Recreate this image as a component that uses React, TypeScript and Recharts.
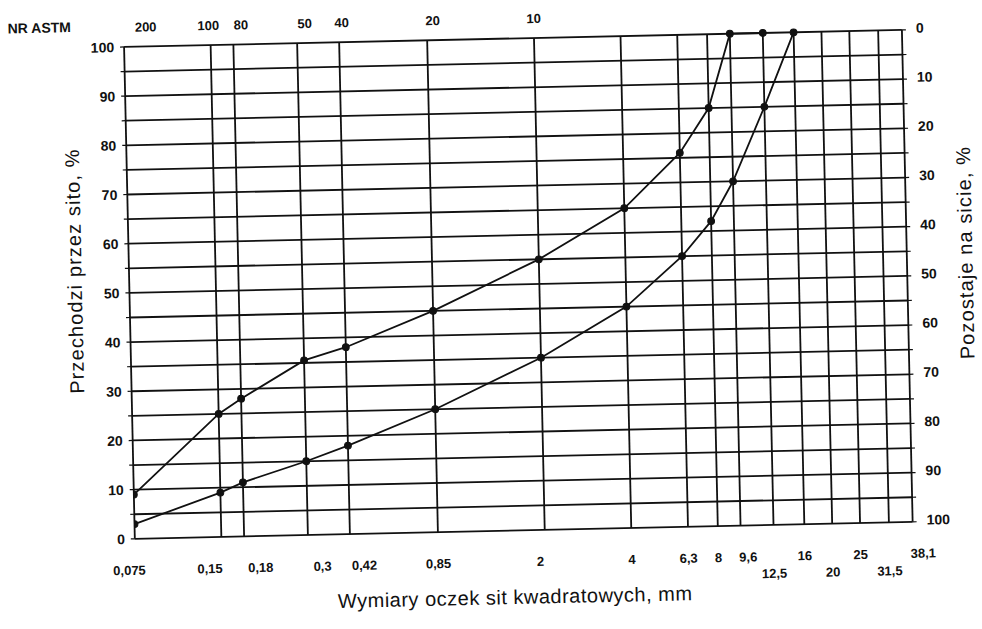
import { LineChart, Line, XAxis, YAxis, CartesianGrid } from "recharts";

// sieve sizes (mm) with the two grading curves, % passing
const sizes = [0.075, 0.15, 0.18, 0.3, 0.42, 0.85, 2, 4, 6.3, 8, 9.6, 12.5, 16];
const passFine = [9, 25, 28, 35.5, 38, 45, 55, 65, 76, 85, 100, 100, null];
const passCoarse = [3, 9, 11, 15, 18, 25, 35, 45, 55, 62, 70, 85, 100];

const sieveTicks = [0.075, 0.15, 0.18, 0.3, 0.42, 0.85, 2, 4, 6.3, 8, 9.6, 12.5, 16, 20, 25, 31.5, 38.1];
const sieveLabels = ["0,075", "0,15", "0,18", "0,3", "0,42", "0,85", "2", "4", "6,3", "8", "9,6", "12,5", "16", "20", "25", "31,5", "38,1"];
const lowerRow = ["12,5", "20", "31,5"];

const astmTicks = [0.075, 0.15, 0.18, 0.3, 0.42, 0.85, 2];
const astmLabels = ["200", "100", "80", "50", "40", "20", "10"];

const percentTicks = [0, 5, 10, 15, 20, 25, 30, 35, 40, 45, 50, 55, 60, 65, 70, 75, 80, 85, 90, 95, 100];

const data = sizes.map((s, i) => ({ size: s, fine: passFine[i], coarse: passCoarse[i] }));

const FONT = "'Liberation Sans', Arial, sans-serif";
const INK = "#111";

// hand placement of a few labels in the original drawing
const labelShift: Record<string, number> = { "0,075": -6, "0,15": -12, "0,18": 16, "0,3": 14, "0,42": 14, "2": -5, "38,1": 10, "9,6": 7 };
const astmShift: Record<string, number> = { "200": 22, "100": -2, "80": 8, "50": 8, "40": 3, "20": 6 };

function BottomTick({ x, y, payload }: any) {
  const i = sieveTicks.indexOf(payload.value);
  const label = sieveLabels[i];
  const low = lowerRow.includes(label);
  return (
    <text x={x + (labelShift[label] || 0)} y={y + (low ? 45 : 28)} textAnchor="middle" fontSize={13} fontWeight="bold" fontFamily={FONT} fill={INK}>
      {label}
    </text>
  );
}

function TopTick({ x, y, payload }: any) {
  const i = astmTicks.indexOf(payload.value);
  if (i < 0) return null;
  const label = astmLabels[i];
  return (
    <text x={x + (astmShift[label] || 0)} y={y - 7} textAnchor="middle" fontSize={13} fontWeight="bold" fontFamily={FONT} fill={INK}>
      {label}
    </text>
  );
}

function LeftTick({ x, y, payload }: any) {
  if (payload.value % 10 !== 0) return null;
  return (
    <text x={x - 4} y={y + 5} textAnchor="end" fontSize={14} fontWeight="bold" fontFamily={FONT} fill={INK}>
      {payload.value}
    </text>
  );
}

function RightTick({ x, y, payload }: any) {
  if (payload.value % 10 !== 0) return null;
  return (
    <text x={x + 8} y={y + 3} textAnchor="start" fontSize={14} fontWeight="bold" fontFamily={FONT} fill={INK}>
      {payload.value}
    </text>
  );
}

export default function App() {
  return (
    <div
      style={{
        position: "absolute",
        left: 0,
        top: 0,
        width: 982,
        height: 629,
        background: "#fff",
        fontFamily: FONT,
        transform: "rotate(-1.25deg)",
        transformOrigin: "491px 314px",
      }}
    >
      <LineChart width={982} height={629} data={data} margin={{ top: 19, right: 14, bottom: 48, left: 70 }}>
        <CartesianGrid xAxisId="bottom" yAxisId="left" stroke={INK} strokeWidth={1.8} />
        <XAxis
          xAxisId="bottom"
          dataKey="size"
          type="number"
          scale="log"
          domain={[0.075, 38.1]}
          allowDataOverflow
          ticks={sieveTicks}
          interval={0}
          axisLine={false}
          tickLine={false}
          height={50}
          tick={<BottomTick />}
        />
        <XAxis
          xAxisId="top"
          orientation="top"
          dataKey="size"
          type="number"
          scale="log"
          domain={[0.075, 38.1]}
          allowDataOverflow
          ticks={astmTicks}
          interval={0}
          axisLine={false}
          tickLine={false}
          height={20}
          tick={<TopTick />}
        />
        <YAxis
          yAxisId="left"
          domain={[0, 100]}
          ticks={percentTicks}
          interval={0}
          width={60}
          axisLine={false}
          tickLine={{ stroke: INK, strokeWidth: 1.2 }}
          tickSize={4}
          tick={<LeftTick />}
        />
        <YAxis
          yAxisId="right"
          orientation="right"
          reversed
          domain={[0, 100]}
          ticks={percentTicks}
          interval={0}
          width={60}
          axisLine={false}
          tickLine={{ stroke: INK, strokeWidth: 1.2 }}
          tickSize={4}
          tick={<RightTick />}
        />
        <Line
          xAxisId="bottom"
          yAxisId="left"
          type="linear"
          dataKey="fine"
          stroke={INK}
          strokeWidth={1.8}
          dot={{ r: 3.4, fill: INK, stroke: INK, strokeWidth: 1 }}
          isAnimationActive={false}
        />
        <Line
          xAxisId="bottom"
          yAxisId="left"
          type="linear"
          dataKey="coarse"
          stroke={INK}
          strokeWidth={1.8}
          dot={{ r: 3.4, fill: INK, stroke: INK, strokeWidth: 1 }}
          isAnimationActive={false}
        />
        {/* the right-hand scale only needs a series bound to it to be drawn */}
        <Line
          xAxisId="bottom"
          yAxisId="right"
          dataKey="coarse"
          stroke="none"
          dot={false}
          activeDot={false}
          isAnimationActive={false}
        />
      </LineChart>

      <div style={{ position: "absolute", left: 14, top: 10, fontSize: 14, fontWeight: "bold", color: INK }}>NR ASTM</div>
      <div
        style={{
          position: "absolute",
          left: 76,
          top: 262,
          transform: "translate(-50%, -50%) rotate(-90deg)",
          whiteSpace: "nowrap",
          fontSize: 20,
          letterSpacing: 1.1,
          color: INK,
        }}
      >
        Przechodzi przez sito, %
      </div>
      <div
        style={{
          position: "absolute",
          left: 967,
          top: 263,
          transform: "translate(-50%, -50%) rotate(-90deg)",
          whiteSpace: "nowrap",
          fontSize: 20,
          letterSpacing: 1.1,
          color: INK,
        }}
      >
        Pozostaje na sicie, %
      </div>
      <div
        style={{
          position: "absolute",
          left: 509,
          top: 598,
          transform: "translate(-50%, -50%)",
          fontSize: 20,
          letterSpacing: 0.5,
          whiteSpace: "nowrap",
          color: INK,
        }}
      >
        Wymiary oczek sit kwadratowych, mm
      </div>
    </div>
  );
}
